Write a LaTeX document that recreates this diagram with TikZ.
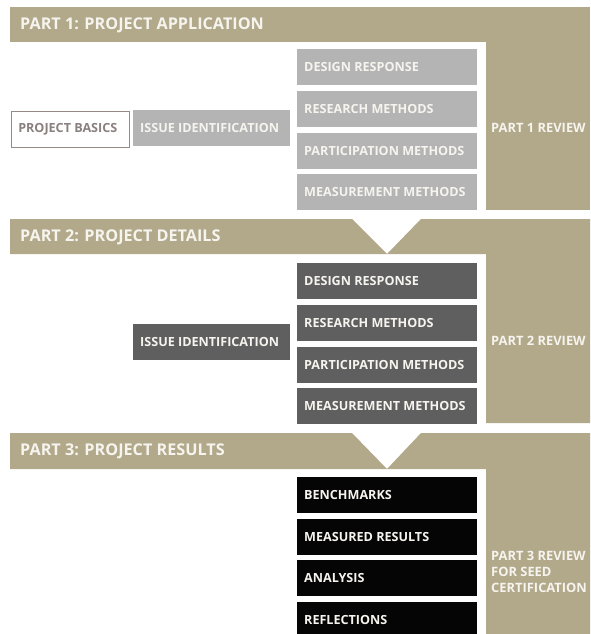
\documentclass[tikz,border=0pt]{standalone}
\usepackage{fontspec}
\setmainfont{Open Sans}
\definecolor{tan}{RGB}{178,168,138}
\definecolor{lgray}{RGB}{180,180,180}
\definecolor{dgray}{RGB}{95,95,95}
\definecolor{blk}{RGB}{5,5,5}
\definecolor{wtext}{RGB}{246,244,238}
\definecolor{btext}{RGB}{138,128,126}
\definecolor{bborder}{RGB}{150,138,136}
\tikzset{
  boxbase/.style={rectangle, anchor=north west, minimum height=36pt, inner xsep=7pt, inner ysep=0pt, align=flush left, font=\bfseries\fontsize{12.6}{14}\selectfont, text=wtext},
  colbox/.style={boxbase, minimum width=180pt, text width=166pt},
  lightbox/.style={colbox, fill=lgray},
  darkbox/.style={colbox, fill=dgray},
  blackbox/.style={colbox, fill=blk},
  issuebox/.style={boxbase, minimum width=157pt, text width=143pt},
  basicsbox/.style={boxbase, minimum width=118pt, text width=104pt, fill=white, draw=bborder, line width=1.3pt, text=btext},
  bandtitle/.style={anchor=west, inner sep=0pt, font=\bfseries\fontsize{16.2}{18}\selectfont, text=wtext},
  reviewtext/.style={anchor=west, inner sep=0pt, align=left, font=\bfseries\fontsize{12.9}{15.8}\selectfont, text=wtext},
}
\begin{document}
\begin{tikzpicture}[x=1pt,y=-1pt]
\useasboundingbox (0,0) rectangle (590,634);
% Part 1 band
\fill[tan] (10,7) rectangle (590,42);
\fill[tan] (486,42) rectangle (590,210);
% Part 2 band
\fill[tan] (10,219) -- (352,219) -- (387,254) -- (10,254) -- cycle;
\fill[tan] (421,219) -- (590,219) -- (590,423) -- (486,423) -- (486,254) -- (387,254) -- cycle;
% Part 3 band
\fill[tan] (10,433) -- (352,433) -- (387,469) -- (10,469) -- cycle;
\fill[tan] (421,433) -- (590,433) -- (590,634) -- (486,634) -- (486,469) -- (387,469) -- cycle;

\node[bandtitle] (t1) at (20,25) {PART 1: PROJECT APPLICATION};
\node[bandtitle] (t2) at (20,237) {PART 2: PROJECT DETAILS};
\node[bandtitle] (t3) at (20,451) {PART 3: PROJECT RESULTS};

% Part 1 boxes
\node[basicsbox] (pb) at (10.6,110.6) {PROJECT BASICS};
\node[issuebox, fill=lgray] (ii1) at (133,110) {ISSUE IDENTIFICATION};
\node[lightbox] (dr1) at (297,49) {DESIGN RESPONSE};
\node[lightbox] (rm1) at (297,91) {RESEARCH METHODS};
\node[lightbox] (pm1) at (297,132.5) {PARTICIPATION METHODS};
\node[lightbox] (mm1) at (297,174) {MEASUREMENT METHODS};
\node[reviewtext] (r1) at (491,128) {PART 1 REVIEW};

% Part 2 boxes
\node[issuebox, fill=dgray] (ii2) at (133,324) {ISSUE IDENTIFICATION};
\node[darkbox] (dr2) at (297,263) {DESIGN RESPONSE};
\node[darkbox] (rm2) at (297,305) {RESEARCH METHODS};
\node[darkbox] (pm2) at (297,346.5) {PARTICIPATION METHODS};
\node[darkbox] (mm2) at (297,388) {MEASUREMENT METHODS};
\node[reviewtext] (r2) at (491,341) {PART 2 REVIEW};

% Part 3 boxes
\node[blackbox] (bm) at (297,477) {BENCHMARKS};
\node[blackbox] (mr) at (297,518.5) {MEASURED RESULTS};
\node[blackbox] (an) at (297,560) {ANALYSIS};
\node[blackbox] (rf) at (297,601.5) {REFLECTIONS};
\node[reviewtext] (r3) at (491,572) {PART 3 REVIEW\\FOR SEED\\CERTIFICATION};
\end{tikzpicture}
\end{document}
